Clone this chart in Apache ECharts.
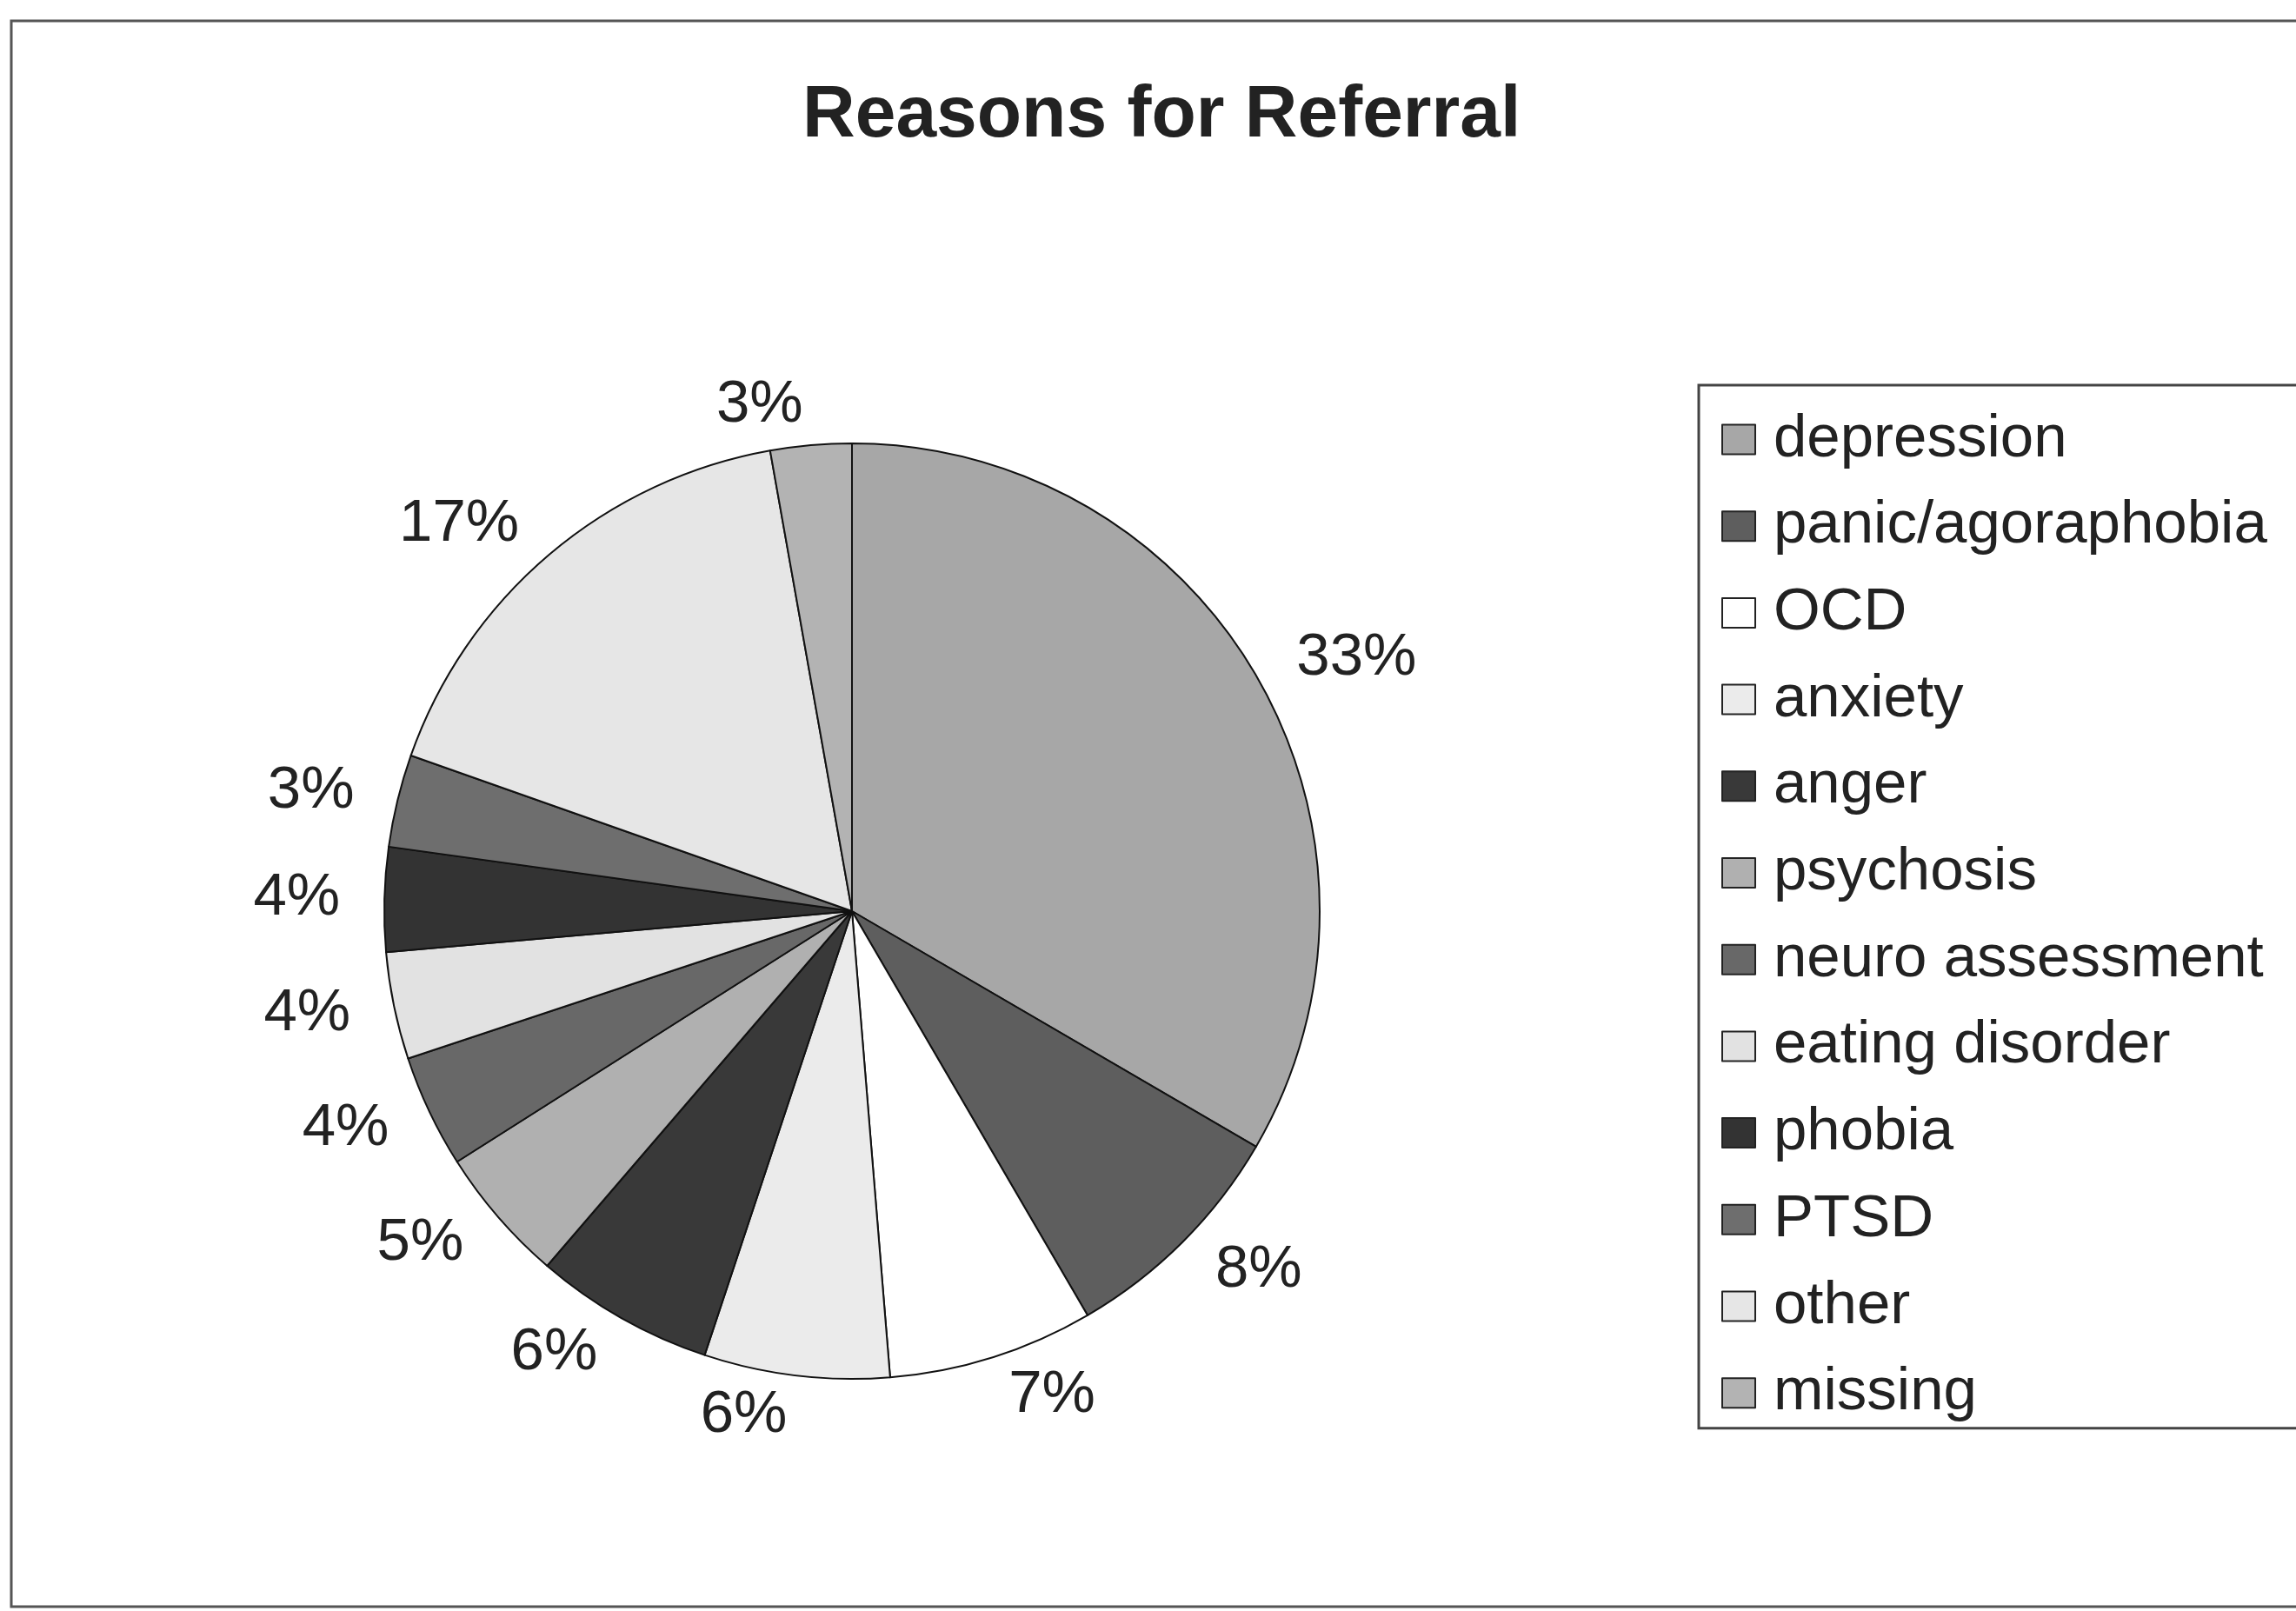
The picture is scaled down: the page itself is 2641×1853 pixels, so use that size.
<!DOCTYPE html>
<html>
<head>
<meta charset="utf-8">
<title>Reasons for Referral</title>
<script src="https://cdn.jsdelivr.net/npm/echarts@6/dist/echarts.min.js"></script>
<style>
  html, body { margin: 0; padding: 0; background: #fff; }
  #chart { width: 2641px; height: 1853px; }
</style>
</head>
<body>
<div id="chart"></div>
<script>
// reasons, clockwise from 12 o'clock
const categories = [
  "depression", "panic/agoraphobia", "OCD", "anxiety", "anger", "psychosis",
  "neuro assessment", "eating disorder", "phobia", "PTSD", "other", "missing"
];
// share of referrals (%)
const shares = [33.4, 8.2, 7.1, 6.4, 6.2, 4.7, 3.9, 3.7, 3.6, 3.2, 16.8, 2.8];
// grey shades of the slices
const shades = [
  "#a7a7a7", "#5e5e5e", "#ffffff", "#ebebeb", "#393939", "#b0b0b0",
  "#686868", "#e2e2e2", "#333333", "#6e6e6e", "#e6e6e6", "#b3b3b3"
];

const font = "'Liberation Sans', Arial, sans-serif";
const chart = echarts.init(document.getElementById("chart"));

chart.setOption({
  animation: false,
  backgroundColor: "#fff",
  title: {
    text: "Reasons for Referral",
    left: 918,
    top: 87,
    textStyle: { fontFamily: font, fontSize: 84, fontWeight: "bold", color: "#222" }
  },
  legend: {
    orient: "vertical",
    left: 1954,
    top: 443,
    padding: [28, 300, 6, 26],
    borderColor: "#444",
    borderWidth: 3,
    itemWidth: 38,
    itemHeight: 34,
    itemGap: 30.7,
    icon: "rect",
    itemStyle: { borderColor: "#222", borderWidth: 2 },
    textStyle: { fontFamily: font, fontSize: 69, color: "#222", padding: [0, 0, 0, 16] },
    data: categories
  },
  graphic: [{
    type: "rect",
    shape: { x: 13, y: 24, width: 2700, height: 1824 },
    style: { fill: null, stroke: "#555", lineWidth: 3 },
    silent: true
  }],
  series: [{
    type: "pie",
    center: [980, 1048],
    radius: 538,
    startAngle: 90,
    clockwise: true,
    percentPrecision: 0,
    avoidLabelOverlap: false,
    itemStyle: { borderColor: "#111", borderWidth: 2 },
    label: {
      show: true,
      position: "outside",
      formatter: "{d}%",
      fontFamily: font,
      fontSize: 69,
      color: "#222"
    },
    labelLine: { show: false, length: 46, length2: 0 },
    emphasis: { disabled: true },
    data: categories.map((name, i) => ({
      name: name,
      value: shares[i],
      itemStyle: { color: shades[i] }
    }))
  }]
});
</script>
</body>
</html>
